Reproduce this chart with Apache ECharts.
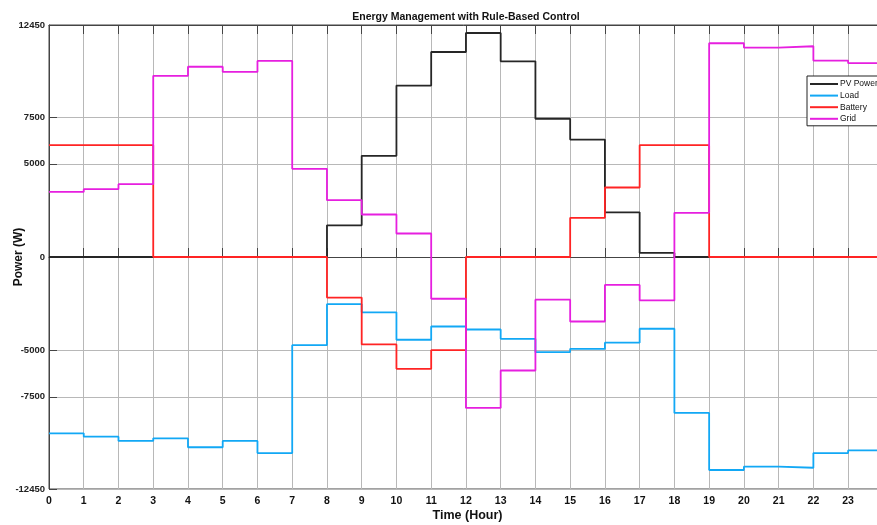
<!DOCTYPE html>
<html>
<head>
<meta charset="utf-8">
<title>Energy Management with Rule-Based Control</title>
<script src="https://cdn.jsdelivr.net/npm/echarts@6.0.0/dist/echarts.min.js"></script>
<style>
	html, body {
		margin: 0;
		padding: 0;
		background: #fff;
	}
	#chart {
		width: 877px;
		height: 525px;
	}
</style>
</head>
<body>
<div id="chart"></div>
<script>
	// hour of each step (value holds until the next hour)
	var hours = [0, 1, 2, 3, 4, 5, 6, 7, 8, 9, 10, 11, 12, 13, 14, 15, 16, 17, 18, 19, 20, 21, 22, 23];
	var hourTicks = hours;
	var yTicks = [-12450, -7500, -5000, 0, 5000, 7500, 12450];

	// power values in W
	var pvPower = [0, 0, 0, 0, 0, 0, 0, 0, 1700, 5430, 9200, 11000, 12020, 10500, 7420, 6300, 2400, 220, 0, 0, 0, 0, 0, 0];
	var load = [-9460, -9640, -9870, -9730, -10210, -9870, -10520, -4730, -2530, -2970, -4440, -3730, -3890, -4390, -5110, -4930, -4600, -3850, -8370, -11430, -11250, -11310, -10520, -10380];
	var battery = [6000, 6000, 6000, 0, 0, 0, 0, 0, -2180, -4690, -6000, -5000, 0, 0, 0, 2100, 3730, 6000, 6000, 0, 0, 0, 0, 0];
	var grid = [3490, 3640, 3910, 9720, 10210, 9930, 10520, 4730, 3050, 2280, 1260, -2240, -8100, -6090, -2290, -3460, -1500, -2330, 2370, 11470, 11240, 11310, 10540, 10400];

	// step data: one point per hour + a closing point at 24
	function steps(vals) {
		var out = hours.map(function(h, i) { return [h, vals[i]]; });
		out.push([24, vals[vals.length - 1]]);
		return out;
	}

	function lineSeries(name, vals, color) {
		return {
			name: name,
			type: 'line',
			step: 'end',
			showSymbol: false,
			symbol: 'none',
			data: steps(vals),
			lineStyle: { color: color, width: 1.8 },
			itemStyle: { color: color }
		};
	}

	var gridColor = '#b8b8b8';
	var axisColor = '#444';
	var font = 'Liberation Sans, Arial, sans-serif';
	var narrow = 'Liberation Sans Narrow, Liberation Sans, Arial, sans-serif';

	var option = {
		animation: false,
		backgroundColor: '#fff',
		title: {
			text: 'Energy Management with Rule-Based Control',
			left: 461,
			top: 7,
			textAlign: 'center',
			textStyle: { fontFamily: font, fontSize: 10.5, fontWeight: 'bold', color: '#111' }
		},
		legend: {
			data: ['PV Power', 'Load', 'Battery', 'Grid'],
			orient: 'vertical',
			left: 807,
			top: 76,
			padding: [3, 6, 2, 2],
			itemWidth: 28,
			itemHeight: 10,
			itemGap: 1.6,
			itemStyle: { opacity: 0 },
			backgroundColor: '#fff',
			borderColor: '#222',
			borderWidth: 1,
			borderRadius: 0,
			textStyle: { fontFamily: narrow, fontSize: 8.5, color: '#111', lineHeight: 10, padding: [0, 0, 0, -3] }
		},
		grid: {
			left: 49,
			right: -1,
			top: 25,
			bottom: 36,
			outerBoundsMode: 'none',
			containLabel: false,
			show: true,
			borderColor: axisColor,
			borderWidth: 1
		},
		xAxis: [{
			type: 'value',
			min: 0,
			max: 23.86,
			name: 'Time (Hour)',
			nameLocation: 'middle',
			nameGap: 20,
			nameMoveOverlap: false,
			nameTextStyle: { fontFamily: narrow, fontSize: 12.5, fontWeight: 'bold', color: '#111', padding: [0, 0, 0, 8] },
			axisLine: { show: true, lineStyle: { color: axisColor } },
			axisTick: { show: true, inside: true, length: 9, customValues: hourTicks, lineStyle: { color: axisColor } },
			axisLabel: { customValues: hourTicks, margin: 7, fontFamily: narrow, fontSize: 10.5, fontWeight: 'bold', color: '#111' },
			splitLine: { show: true, lineStyle: { color: gridColor, width: 1 } }
		}, {
			type: 'value',
			position: 'top',
			min: 0,
			max: 23.86,
			axisLine: { show: true, lineStyle: { color: axisColor } },
			axisTick: { show: true, inside: true, length: 9, customValues: hourTicks, lineStyle: { color: axisColor } },
			axisLabel: { show: false },
			splitLine: { show: false }
		}],
		yAxis: {
			type: 'value',
			min: -12450,
			max: 12450,
			name: 'Power (W)',
			nameLocation: 'middle',
			nameGap: 24,
			nameMoveOverlap: false,
			nameTextStyle: { fontFamily: font, fontSize: 12, fontWeight: 'bold', color: '#111' },
			axisLine: { show: true, lineStyle: { color: axisColor } },
			axisTick: { show: true, inside: true, length: 8, customValues: yTicks, lineStyle: { color: axisColor } },
			axisLabel: {
				customValues: yTicks,
				margin: 4,
				formatter: function(v) { return String(v); },
				fontFamily: font, fontSize: 9.5, fontWeight: 'bold', color: '#222'
			},
			splitLine: { show: true, lineStyle: { color: gridColor, width: 1 } }
		},
		series: [
			lineSeries('PV Power', pvPower, '#262626'),
			lineSeries('Load', load, '#12a8f5'),
			lineSeries('Battery', battery, '#ff2424'),
			lineSeries('Grid', grid, '#e61fdf')
		]
	};

	var chart = echarts.init(document.getElementById('chart'));
	chart.setOption(option);
</script>
</body>
</html>
